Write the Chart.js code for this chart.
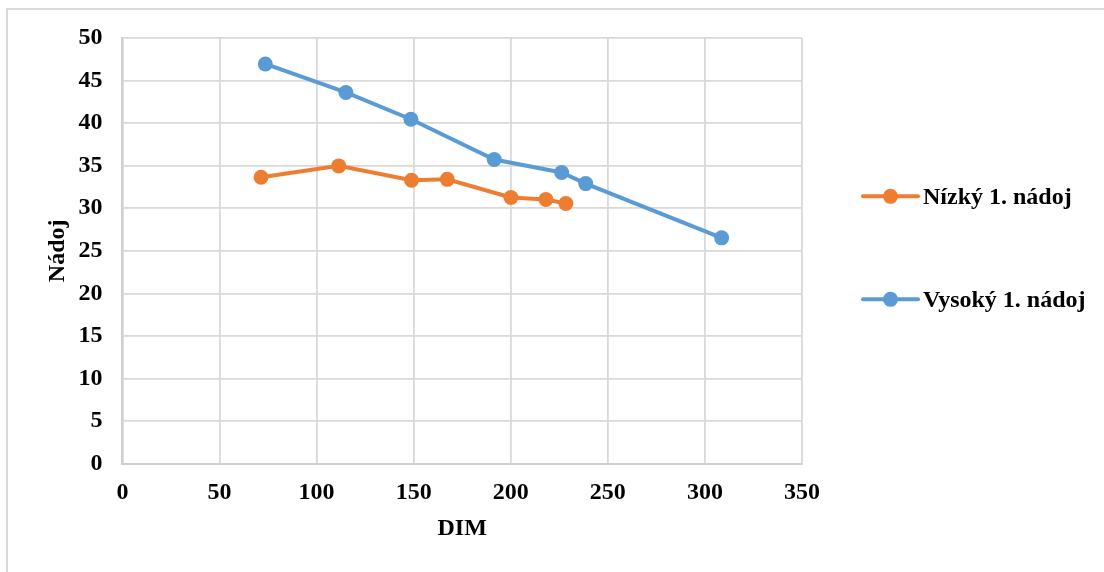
<!DOCTYPE html>
<html><head><meta charset="utf-8">
<script src="https://cdn.jsdelivr.net/npm/chart.js@4"></script>
<style>
html,body{margin:0;padding:0;background:#fff;}
body{width:1104px;height:572px;overflow:hidden;position:relative;}
#frame{position:absolute;left:6px;top:8px;width:1200px;height:700px;border-left:2px solid #d9d9d9;border-top:2px solid #d9d9d9;}
#wrap{position:absolute;left:0;top:0;width:1104px;height:572px;}
</style></head>
<body><div id="frame"></div><div id="wrap"><canvas id="c"></canvas></div>
<script>
const seriesNames = ['Nízký 1. nádoj', 'Vysoký 1. nádoj'];
const lowX  = [71.4, 111.4, 148.9, 167.3, 200.1, 218.1, 228.4];
const lowY  = [33.65, 34.98, 33.3, 33.4, 31.27, 31.03, 30.56];
const highX = [73.6, 115.1, 148.6, 191.5, 226.2, 238.6, 308.6];
const highY = [46.95, 43.6, 40.46, 35.73, 34.2, 32.9, 26.53];
const xTitle = 'DIM';
const yTitle = 'Nádoj';

const toPts = (xs, ys) => xs.map((x, i) => ({x: x, y: ys[i]}));
const FONT = '"Liberation Serif", "Times New Roman", serif';
const FS = 24;

const sideLegend = {
  id: 'sideLegend',
  afterDraw(chart) {
    const {ctx, chartArea} = chart;
    const cy = (chartArea.top + chartArea.bottom) / 2 - 3;
    const gap = 103;
    chart.data.datasets.forEach((ds, i) => {
      const y = cy + (i - 0.5) * gap;
      const x0 = chartArea.right + 61;
      ctx.save();
      ctx.strokeStyle = ds.borderColor; ctx.lineWidth = 4; ctx.lineCap = 'round';
      ctx.beginPath(); ctx.moveTo(x0, y); ctx.lineTo(x0 + 55, y); ctx.stroke();
      ctx.fillStyle = ds.backgroundColor;
      ctx.beginPath(); ctx.arc(x0 + 27.5, y, 7.5, 0, Math.PI * 2); ctx.fill();
      ctx.fillStyle = '#000'; ctx.font = 'bold ' + FS + 'px ' + FONT; ctx.textBaseline = 'middle'; ctx.textAlign = 'left';
      ctx.fillText(ds.label, x0 + 60, y + 1);
      ctx.restore();
    });
  }
};

new Chart(document.getElementById('c'), {
  type: 'scatter',
  data: {
    datasets: [
      {label: seriesNames[0], data: toPts(lowX, lowY), showLine: true, borderColor: '#ED7D31', backgroundColor: '#ED7D31',
       borderWidth: 4, pointRadius: 7.5, pointHoverRadius: 7.5, pointBorderWidth: 0, pointBackgroundColor: '#ED7D31'},
      {label: seriesNames[1], data: toPts(highX, highY), showLine: true, borderColor: '#5B9BD5', backgroundColor: '#5B9BD5',
       borderWidth: 4, pointRadius: 7.5, pointHoverRadius: 7.5, pointBorderWidth: 0, pointBackgroundColor: '#5B9BD5'}
    ]
  },
  options: {
    responsive: true, maintainAspectRatio: false, animation: false,
    layout: {padding: {left: 0, right: 302, top: 38, bottom: 0}},
    plugins: {legend: {display: false}, tooltip: {enabled: false}},
    scales: {
      x: {
        type: 'linear', min: 0, max: 350,
        ticks: {stepSize: 50, color: '#000', padding: 15, font: {family: FONT, size: FS, weight: 'bold'}},
        grid: {color: '#d9d9d9', lineWidth: 1.8, drawTicks: false},
        border: {color: '#d0d0d0', width: 2},
        title: {display: true, text: xTitle, color: '#000', font: {family: FONT, size: FS, weight: 'bold'}, padding: {top: 0, bottom: 28.6}},
        afterFit(s) { s.height = 108.3; }
      },
      y: {
        type: 'linear', min: 0, max: 50,
        ticks: {stepSize: 5, color: '#000', padding: 20, font: {family: FONT, size: FS, weight: 'bold'}},
        grid: {color: '#d9d9d9', lineWidth: 1.8, drawTicks: false},
        border: {color: '#d0d0d0', width: 2},
        title: {display: true, text: yTitle, color: '#000', font: {family: FONT, size: FS, weight: 'bold'}, padding: {top: 43.6, bottom: 0}},
        afterFit(s) { s.width = 122.4; }
      }
    }
  },
  plugins: [sideLegend]
});
</script>
</body></html>
